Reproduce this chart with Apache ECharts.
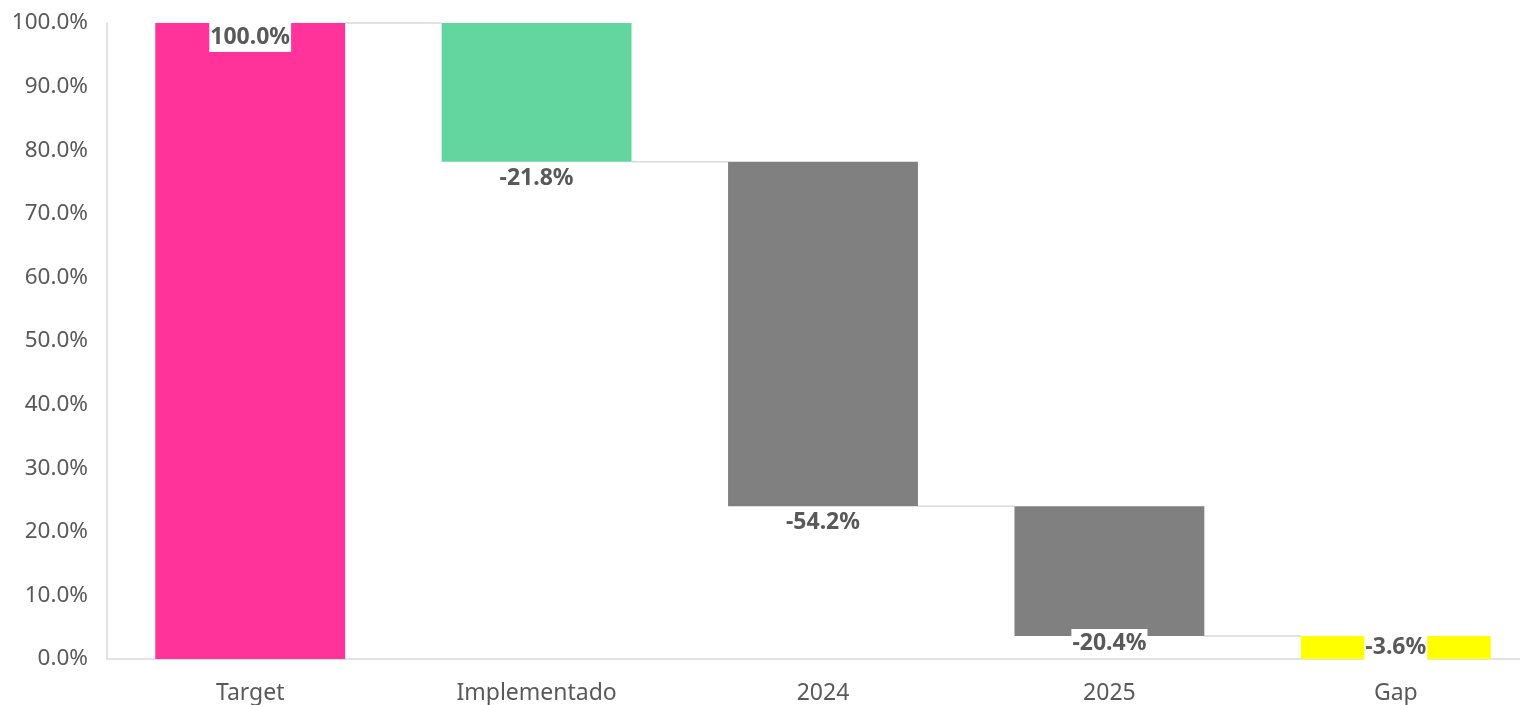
<!DOCTYPE html>
<html>
<head>
<meta charset="utf-8">
<script src="https://cdn.jsdelivr.net/npm/echarts@6/dist/echarts.min.js"></script>
<style>
html,body{margin:0;padding:0;background:#fff;}
#c{width:1520px;height:705px;}
</style>
</head>
<body>
<div id="c"></div>
<script>
const categories = ['Target', 'Implementado', '2024', '2025', 'Gap'];
const values = [100, -21.8, -54.2, -20.4, -3.6];
const yTicks = [0, 10, 20, 30, 40, 50, 60, 70, 80, 90, 100];

const barColors = ['#FF3399', '#63D69F', '#808080', '#808080', '#FFFF00'];
const textColor = '#595959';
const lineColor = '#d9d9d9';
const GRID = { left: 107, top: 23, width: 1432, height: 636, outerBoundsMode: 'none', containLabel: false };
const BAR_FRAC = 0.663;
const LABEL_FONT = 23;
const LABEL_PAD = [3, 1];
const BOX_H = LABEL_FONT + 2 * LABEL_PAD[0] + 1;

// waterfall geometry from values
const bases = [], heights = [], totals = [];
let run = 0;
values.forEach((v, i) => {
  if (i === 0) { bases.push(0); heights.push(v); run = v; }
  else { run = +(run + v).toFixed(4); bases.push(Math.min(run, run - v)); heights.push(Math.abs(v)); }
  totals.push(run);
});
const pxPerUnit = GRID.height / (yTicks[yTicks.length - 1] - yTicks[0]);

function fmt(v, i) {
  return (i === 0 ? '' : (v < 0 ? '-' : '')) + Math.abs(v).toFixed(1) + '%';
}

const barData = values.map((v, i) => {
  let label;
  if (i === 0) {
    label = { position: 'insideTop', distance: 0 };
  } else if (i === values.length - 1) {
    label = { position: 'inside' };
  } else {
    const room = bases[i] * pxPerUnit;
    label = { position: 'bottom', distance: Math.min(2, room - BOX_H) };
  }
  return { value: heights[i], itemStyle: { color: barColors[i] }, label: label };
});

const connData = totals.slice(0, -1).map((t, i) => [i, t]);

const chart = echarts.init(document.getElementById('c'), null, { renderer: 'canvas' });
chart.setOption({
  animation: false,
  grid: GRID,
  xAxis: {
    type: 'category',
    data: categories,
    axisLine: { show: true, lineStyle: { color: lineColor, width: 1.5 } },
    axisTick: { show: false },
    axisLabel: { color: textColor, fontSize: 23, fontFamily: 'Noto Sans', margin: 23 },
    splitLine: { show: false }
  },
  yAxis: {
    type: 'value',
    min: 0, max: 100, interval: 10,
    axisLine: { show: true, lineStyle: { color: lineColor, width: 1.5 } },
    axisTick: { show: false },
    splitLine: { show: false },
    axisLabel: {
      color: textColor, fontSize: 22.5, fontFamily: 'Noto Sans', margin: 19,
      formatter: v => v.toFixed(1) + '%'
    }
  },
  series: [
    {
      type: 'bar', stack: 'w', data: bases,
      itemStyle: { color: 'transparent' }, barWidth: (BAR_FRAC * 100) + '%',
      silent: true
    },
    {
      type: 'bar', stack: 'w', data: barData, barWidth: (BAR_FRAC * 100) + '%',
      label: {
        show: true,
        formatter: p => fmt(values[p.dataIndex], p.dataIndex),
        color: textColor, fontSize: LABEL_FONT, fontWeight: 'bold', fontFamily: 'Noto Sans',
        backgroundColor: '#ffffff', padding: LABEL_PAD
      }
    },
    {
      type: 'custom',
      data: connData,
      clip: false,
      z: 1,
      renderItem: (params, api) => {
        const p = api.coord([api.value(0), api.value(1)]);
        const band = api.size([1, 0])[0];
        const bw = band * BAR_FRAC;
        return {
          type: 'line',
          shape: { x1: p[0] + bw / 2, y1: p[1], x2: p[0] + band - bw / 2, y2: p[1] },
          style: { stroke: lineColor, lineWidth: 1.5 }
        };
      }
    }
  ]
});
</script>
</body>
</html>
